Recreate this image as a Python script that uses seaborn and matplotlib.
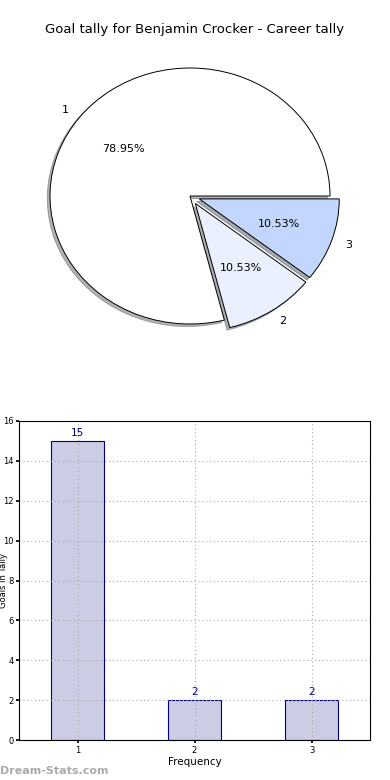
import matplotlib
matplotlib.use("Agg")
import matplotlib.pyplot as plt
import seaborn as sns
import pandas as pd

sns.set_theme(style="white")
plt.rcParams['font.family'] = ['DejaVu Sans']
plt.rcParams['text.color'] = 'black'
plt.rcParams['axes.labelcolor'] = 'black'
plt.rcParams['xtick.color'] = 'black'
plt.rcParams['ytick.color'] = 'black'

title = "Goal tally for Benjamin Crocker - Career tally"
tally_labels = ["1", "2", "3"]
tally_counts = [15, 2, 2]
pie_colors = ["#ffffff", "#eaf0fe", "#c3d7fe"]
explode = [0, 0.07, 0.07]
xlabel = "Frequency"
ylabel = "Goals in Tally"
yticks = [0, 2, 4, 6, 8, 10, 12, 14, 16]

fig = plt.figure(figsize=(3.9, 7.8), dpi=100)

# Pie
axp = fig.add_axes([15/390, 1 - 356/780, 350/390, 320/780])
wedges, texts, autotexts = axp.pie(
    tally_counts, labels=tally_labels, colors=pie_colors, explode=explode,
    autopct='%1.2f%%', shadow={'ox': -0.014, 'oy': -0.014, 'shade': 0.6},
    startangle=0,
    wedgeprops=dict(edgecolor='black', linewidth=0.7),
    textprops=dict(fontsize=8, color='black'))
axp.set_aspect('auto')
axp.set_xlim(-1.25, 1.25)
axp.set_ylim(-1.25, 1.25)
fig.text(0.5, 1 - 30/780, title, ha='center', va='center', fontsize=9.5,
         color='black')

# Bar
axb = fig.add_axes([19/390, 40/780, 351/390, 319/780])
df = pd.DataFrame({"tally": tally_labels, "count": tally_counts})
sns.barplot(data=df, x="tally", y="count", ax=axb, color="#ccccE5",
            edgecolor="#000080", linewidth=0.8, width=0.45, saturation=1)
axb.set_xlim(-0.5, 2.5)
axb.set_ylim(0, 16)
axb.set_yticks(yticks)
axb.tick_params(axis='both', labelsize=6, length=2, direction='out', pad=2,
                bottom=True, left=True)
axb.grid(True, linestyle=(0, (1, 2.5)), color='#aaaaaa', linewidth=0.8)
axb.set_axisbelow(False)
for sp in axb.spines.values():
    sp.set_color('black')
    sp.set_linewidth(0.8)
    sp.set_zorder(6)
for i, v in enumerate(tally_counts):
    axb.text(i, v + 0.15, str(v), ha='center', va='bottom', fontsize=7.5,
             color='#00008b')
axb.set_xlabel(xlabel, fontsize=7.5, labelpad=2)
axb.set_ylabel(ylabel, fontsize=6)
axb.yaxis.set_label_coords(-0.031, 0.5)

fig.text(0.0, 1 - 771/780, "Dream-Stats.com", ha='left', va='center',
         fontsize=8, color='#aaaaaa', fontweight='bold')

fig.savefig("out.png", dpi=100)
